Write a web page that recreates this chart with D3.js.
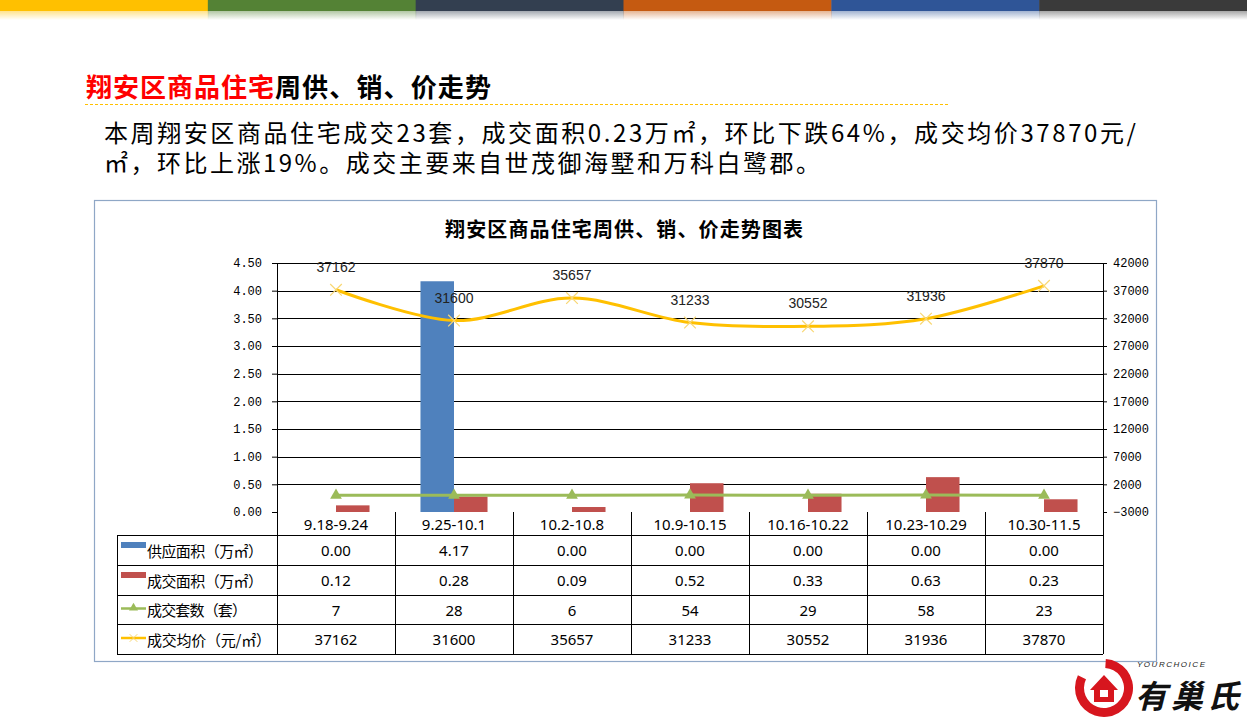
<!DOCTYPE html>
<html>
<head>
<meta charset="utf-8">
<script src="https://cdn.jsdelivr.net/npm/d3@7"></script>
<style>
  html, body { margin: 0; padding: 0; background: #fff; }
  svg { display: block; }
  text { font-family: "Noto Sans", "Noto Sans CJK SC", sans-serif; }
</style>
</head>
<body>
<svg id="slide" width="1247" height="718"></svg>
<script>
// data
var categories = ["9.18-9.24", "9.25-10.1", "10.2-10.8", "10.9-10.15", "10.16-10.22", "10.23-10.29", "10.30-11.5"];
var supplyArea = [0.00, 4.17, 0.00, 0.00, 0.00, 0.00, 0.00];
var dealArea = [0.12, 0.28, 0.09, 0.52, 0.33, 0.63, 0.23];
var dealCount = [7, 28, 6, 54, 29, 58, 23];
var avgPrice = [37162, 31600, 35657, 31233, 30552, 31936, 37870];
var seriesNames = ["供应面积（万㎡）", "成交面积（万㎡）", "成交套数（套）", "成交均价（元/㎡）"];
var leftTicks = [0, 0.5, 1, 1.5, 2, 2.5, 3, 3.5, 4, 4.5];
var rightTicks = [-3000, 2000, 7000, 12000, 17000, 22000, 27000, 32000, 37000, 42000];
var topBarColors = ["#FFC000", "#548235", "#333F50", "#C55A11", "#2F5597", "#3A3A3A"];

(function() {
var colors = { supply: "#4F81BD", deal: "#C0504D", count: "#9BBB59", price: "#FFC000" };

var svg = d3.select("#slide");
var defs = svg.append("defs");

// ---- top colour strip with fade
var stripW = 1247 / topBarColors.length;
topBarColors.forEach(function(c, i) {
  var g = defs.append("linearGradient").attr("id", "fade" + i).attr("x1", 0).attr("y1", 0).attr("x2", 0).attr("y2", 1);
  g.append("stop").attr("offset", 0).attr("stop-color", c).attr("stop-opacity", 0.45);
  g.append("stop").attr("offset", 1).attr("stop-color", c).attr("stop-opacity", 0);
});
svg.selectAll("rect.strip").data(topBarColors).enter().append("rect")
  .attr("class", "strip")
  .attr("x", function(d, i) { return i * stripW; })
  .attr("y", 0).attr("width", stripW + 0.5).attr("height", 11)
  .attr("fill", function(d) { return d; });
svg.selectAll("rect.fade").data(topBarColors).enter().append("rect")
  .attr("class", "fade")
  .attr("x", function(d, i) { return i * stripW; })
  .attr("y", 11).attr("width", stripW + 0.5).attr("height", 9)
  .attr("fill", function(d, i) { return "url(#fade" + i + ")"; });

// ---- heading
var head = svg.append("text").attr("x", 86).attr("y", 97)
  .style("font-family", "'Noto Sans CJK SC'").style("font-size", "26px").style("font-weight", "bold");
head.append("tspan").attr("fill", "#FF0000").attr("textLength", 188).text("翔安区商品住宅");
head.append("tspan").attr("fill", "#000").attr("textLength", 216).text("周供、销、价走势");
svg.append("line").attr("x1", 85).attr("x2", 948).attr("y1", 104.5).attr("y2", 104.5)
  .attr("stroke", "#FFC000").attr("stroke-width", 1).attr("stroke-dasharray", "3,2");

// ---- paragraph
var para = ["本周翔安区商品住宅成交23套，成交面积0.23万㎡，环比下跌64%，成交均价37870元/",
            "㎡，环比上涨19%。成交主要来自世茂御海墅和万科白鹭郡。"];
var paraLen = [1032, 716];
svg.selectAll("text.para").data(para).enter().append("text")
  .attr("class", "para")
  .attr("x", 104).attr("y", function(d, i) { return 142 + i * 30; })
  .attr("textLength", function(d, i) { return paraLen[i]; })
  .style("font-family", "'Noto Sans CJK SC'").style("font-size", "24px").attr("fill", "#000")
  .text(function(d) { return d; });

// ---- chart frame
svg.append("rect").attr("x", 94.5).attr("y", 200.5).attr("width", 1062).attr("height", 461)
  .attr("fill", "#fff").attr("stroke", "#8FA7C6").attr("stroke-width", 1.2);

svg.append("text").attr("x", 445).attr("y", 237).attr("textLength", 358)
  .style("font-family", "'Noto Sans CJK SC'").style("font-size", "20px").style("font-weight", "bold")
  .text("翔安区商品住宅周供、销、价走势图表");

var plotLeft = 277, plotRight = 1103, plotTop = 263, plotBottom = 512;

var x = d3.scaleBand().domain(categories).range([plotLeft, plotRight]).paddingInner(0).paddingOuter(0);
var xi = d3.scaleBand().domain(["supply", "deal"]).range([0, x.bandwidth()]).paddingInner(0).paddingOuter(0.76);
var yL = d3.scaleLinear().domain([0, 4.5]).range([plotBottom, plotTop]);
var yR = d3.scaleLinear().domain([-3000, 42000]).range([plotBottom, plotTop]);

// gridlines
svg.append("g").selectAll("line").data(leftTicks.slice(1)).enter().append("line")
  .attr("x1", plotLeft).attr("x2", plotRight)
  .attr("y1", function(d) { return Math.round(yL(d)) + 0.5; })
  .attr("y2", function(d) { return Math.round(yL(d)) + 0.5; })
  .attr("stroke", "#000").attr("stroke-width", 1);

// axes
var axL = svg.append("g").attr("transform", "translate(" + plotLeft + ",0)")
  .call(d3.axisLeft(yL).tickValues(leftTicks).tickFormat(d3.format(".2f")).tickSizeOuter(0).tickSize(5).tickPadding(10));
var axR = svg.append("g").attr("transform", "translate(" + plotRight + ",0)")
  .call(d3.axisRight(yR).tickValues(rightTicks).tickFormat(d3.format("d")).tickSizeOuter(0).tickSize(4).tickPadding(6));
[axL, axR].forEach(function(a) {
  a.select(".domain").attr("stroke", "#000");
  a.selectAll(".tick line").attr("stroke", "#000");
  a.selectAll(".tick text").attr("fill", "#000")
    .style("font-family", "'Liberation Mono', 'DejaVu Sans Mono', monospace").style("font-size", "12px");
});

// bars
svg.append("g").selectAll("rect").data(supplyArea).enter().append("rect")
  .attr("x", function(d, i) { return x(categories[i]) + xi("supply"); })
  .attr("y", function(d) { return yL(d); })
  .attr("width", xi.bandwidth())
  .attr("height", function(d) { return plotBottom - yL(d); })
  .attr("fill", colors.supply);
svg.append("g").selectAll("rect").data(dealArea).enter().append("rect")
  .attr("x", function(d, i) { return x(categories[i]) + xi("deal"); })
  .attr("y", function(d) { return yL(d); })
  .attr("width", xi.bandwidth())
  .attr("height", function(d) { return plotBottom - yL(d); })
  .attr("fill", colors.deal);

var cx = function(i) { return x(categories[i]) + x.bandwidth() / 2; };

// count line (right axis)
svg.append("path").datum(dealCount)
  .attr("d", d3.line().x(function(d, i) { return cx(i); }).y(function(d) { return yR(d); }))
  .attr("fill", "none").attr("stroke", colors.count).attr("stroke-width", 3);
var tri = d3.symbol().type(d3.symbolTriangle).size(60);
svg.append("g").selectAll("path").data(dealCount).enter().append("path")
  .attr("d", tri)
  .attr("transform", function(d, i) { return "translate(" + cx(i) + "," + yR(d) + ")"; })
  .attr("fill", colors.count);

// price line (right axis), smoothed
svg.append("path").datum(avgPrice)
  .attr("d", d3.line().curve(d3.curveCatmullRom.alpha(0)).x(function(d, i) { return cx(i); }).y(function(d) { return yR(d); }))
  .attr("fill", "none").attr("stroke", colors.price).attr("stroke-width", 3);
var cross = d3.symbol().type(d3.symbolX).size(90);
svg.append("g").selectAll("path").data(avgPrice).enter().append("path")
  .attr("d", cross)
  .attr("transform", function(d, i) { return "translate(" + cx(i) + "," + yR(d) + ")"; })
  .attr("fill", "none").attr("stroke", "#F8D774").attr("stroke-width", 1.2);
svg.append("g").selectAll("text").data(avgPrice).enter().append("text")
  .attr("x", function(d, i) { return cx(i); })
  .attr("y", function(d) { return yR(d) - 18; })
  .attr("text-anchor", "middle")
  .style("font-family", "'Liberation Sans', sans-serif").style("font-size", "14px").attr("fill", "#222")
  .text(function(d) { return d; });

// ---- data table
var tableLeft = 117;
var rowEdges = [512, 535, 565, 595, 624, 654];
var tg = svg.append("g").attr("stroke", "#000").attr("stroke-width", 1).attr("shape-rendering", "crispEdges");
rowEdges.slice(1).forEach(function(yv) {
  tg.append("line").attr("x1", tableLeft).attr("x2", plotRight).attr("y1", yv).attr("y2", yv);
});
tg.append("line").attr("x1", tableLeft).attr("x2", tableLeft).attr("y1", rowEdges[1]).attr("y2", rowEdges[5]);
categories.forEach(function(c) {
  tg.append("line").attr("x1", x(c)).attr("x2", x(c)).attr("y1", plotBottom).attr("y2", rowEdges[5]);
});
tg.append("line").attr("x1", plotRight).attr("x2", plotRight).attr("y1", plotBottom).attr("y2", rowEdges[5]);

var rowMid = function(r) { return (rowEdges[r] + rowEdges[r + 1]) / 2; };
var cellStyle = function(sel) {
  return sel.attr("text-anchor", "middle").attr("dominant-baseline", "central")
    .style("font-size", "15px").attr("fill", "#000");
};
cellStyle(svg.append("g").selectAll("text").data(categories).enter().append("text")
  .attr("x", function(d, i) { return cx(i); }).attr("y", rowMid(0))
  .text(function(d) { return d; }));

var tableRows = [
  supplyArea.map(function(v) { return v.toFixed(2); }),
  dealArea.map(function(v) { return v.toFixed(2); }),
  dealCount.map(String),
  avgPrice.map(String)
];
tableRows.forEach(function(row, r) {
  cellStyle(svg.append("g").selectAll("text").data(row).enter().append("text")
    .attr("x", function(d, i) { return cx(i); }).attr("y", rowMid(r + 1))
    .text(function(d) { return d; }));
});

// legend keys in table
var nameLen = [116, 116, 100, 124];
seriesNames.forEach(function(name, r) {
  var ym = rowMid(r + 1);
  if (r < 2) {
    svg.append("rect").attr("x", 121).attr("y", ym - 8).attr("width", 25).attr("height", 6)
      .attr("fill", r === 0 ? colors.supply : colors.deal);
  } else if (r === 2) {
    svg.append("line").attr("x1", 121).attr("x2", 146).attr("y1", ym - 1).attr("y2", ym - 1)
      .attr("stroke", colors.count).attr("stroke-width", 2.5);
    svg.append("path").attr("d", d3.symbol().type(d3.symbolTriangle).size(35))
      .attr("transform", "translate(133.5," + (ym - 1.5) + ")").attr("fill", colors.count);
  } else {
    svg.append("line").attr("x1", 121).attr("x2", 146).attr("y1", ym - 1).attr("y2", ym - 1)
      .attr("stroke", colors.price).attr("stroke-width", 2.5);
    svg.append("path").attr("d", d3.symbol().type(d3.symbolX).size(40))
      .attr("transform", "translate(133.5," + (ym - 1) + ")").attr("fill", "none")
      .attr("stroke", "#F8D774").attr("stroke-width", 1);
  }
  svg.append("text").attr("x", 147).attr("y", ym).attr("dominant-baseline", "central")
    .attr("textLength", nameLen[r])
    .style("font-family", "'Noto Sans CJK SC'").style("font-size", "15px").attr("fill", "#000")
    .text(name);
});

// ---- logo (rough)
var logo = svg.append("g").attr("transform", "translate(1104,688)");
logo.append("path")
  .attr("d", d3.arc().innerRadius(20).outerRadius(29).startAngle(0.5).endAngle(5.6)())
  .attr("fill", "#D7161E").attr("transform", "rotate(-25)");
logo.append("path").attr("d", "M-14,2 L0,-13 L14,2 L10,2 L10,14 L-10,14 L-10,2 Z").attr("fill", "#D7161E");
logo.append("rect").attr("x", -4).attr("y", 2).attr("width", 8).attr("height", 7).attr("fill", "#fff");
svg.append("text").attr("x", 1137).attr("y", 667).attr("textLength", 68)
  .style("font-family", "'Liberation Sans', sans-serif").style("font-size", "8px")
  .style("font-style", "italic").attr("fill", "#222").text("YOURCHOICE");
svg.append("text").attr("x", 1135).attr("y", 708)
  .style("font-family", "'Noto Sans CJK SC'").style("font-size", "32px").style("font-weight", "bold")
  .style("font-style", "italic").attr("fill", "#111").attr("textLength", 104).text("有巢氏");
})();
</script>
</body>
</html>
